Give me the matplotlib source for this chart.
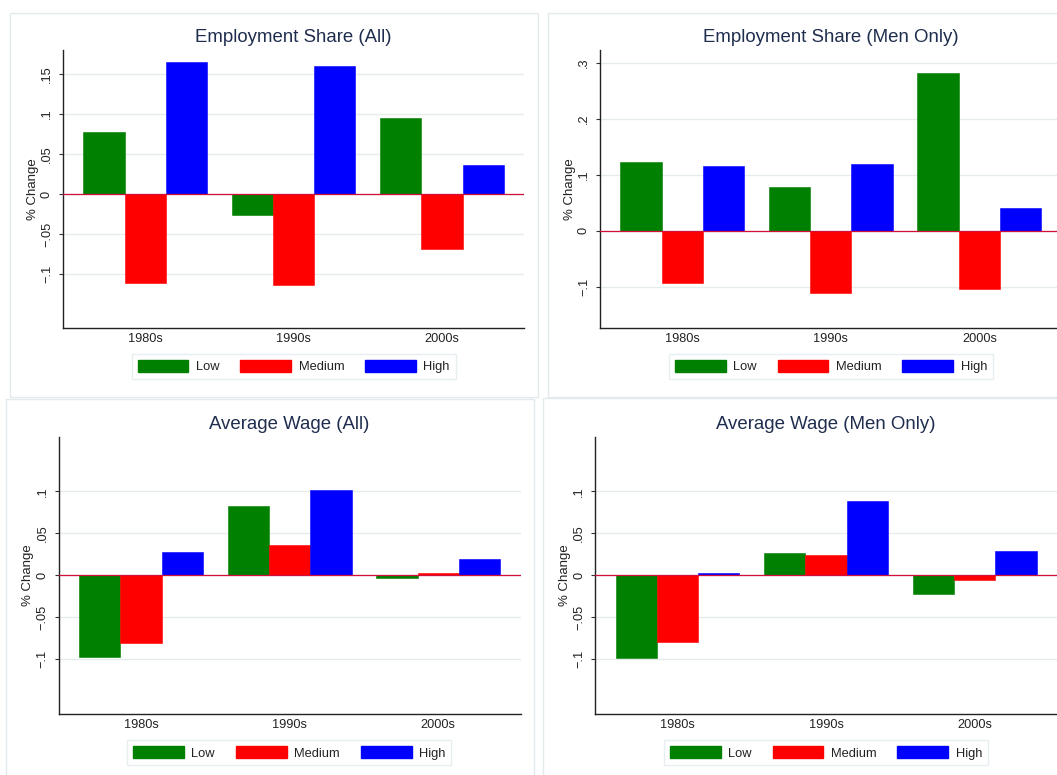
import matplotlib
matplotlib.use("Agg")
import matplotlib.pyplot as plt
from matplotlib.patches import Patch, Rectangle
from matplotlib.transforms import ScaledTranslation
import numpy as np

plt.rcParams['font.family'] = ['Liberation Sans', 'DejaVu Sans']

# ---- data -------------------------------------------------------------
decades = ["1980s", "1990s", "2000s"]
skill_groups = ["Low", "Medium", "High"]
skill_colors = ["#008000", "#ff0000", "#0000ff"]

emp_all_low = [0.0775, -0.026, 0.095]
emp_all_med = [-0.1105, -0.113, -0.069]
emp_all_high = [0.1645, 0.160, 0.036]

emp_men_low = [0.1227, 0.078, 0.2816]
emp_men_med = [-0.0934, -0.111, -0.105]
emp_men_high = [0.1155, 0.119, 0.0405]

wage_all_low = [-0.0969, 0.0825, -0.003]
wage_all_med = [-0.0802, 0.036, 0.003]
wage_all_high = [0.0274, 0.102, 0.0198]

wage_men_low = [-0.098, 0.0265, -0.022]
wage_men_med = [-0.080, 0.024, -0.006]
wage_men_high = [0.0024, 0.089, 0.029]

titles = ["Employment Share (All)", "Employment Share (Men Only)",
          "Average Wage (All)", "Average Wage (Men Only)"]
ytick_sets = [
    [-0.1, -0.05, 0, 0.05, 0.1, 0.15],
    [-0.1, 0, 0.1, 0.2, 0.3],
    [-0.1, -0.05, 0, 0.05, 0.1],
    [-0.1, -0.05, 0, 0.05, 0.1],
]
ytick_labels = [
    ["\u2212.1", "\u2212.05", "0", ".05", ".1", ".15"],
    ["\u2212.1", "0", ".1", ".2", ".3"],
    ["\u2212.1", "\u2212.05", "0", ".05", ".1"],
    ["\u2212.1", "\u2212.05", "0", ".05", ".1"],
]
ylims = [(-0.167, 0.180), (-0.174, 0.323), (-0.1655, 0.165), (-0.1655, 0.165)]
series = [
    (emp_all_low, emp_all_med, emp_all_high),
    (emp_men_low, emp_men_med, emp_men_high),
    (wage_all_low, wage_all_med, wage_all_high),
    (wage_men_low, wage_men_med, wage_men_high),
]

# ---- layout (pixel boxes: left, top, right, bottom) --------------------
W, H = 1057, 775
axes_boxes = [
    (62.7, 50, 524.4, 328),
    (599.6, 50, 1061.9, 328),
    (58.5, 436.7, 520.7, 714.3),
    (594.9, 436.7, 1057.2, 714.3),
]
frame_boxes = [
    (10, 13, 538.3, 396.7),
    (547.7, 13, 1065, 397),
    (6.3, 399.3, 534.3, 790),
    (543.3, 398, 1065, 790),
]
legend_centers = [(293.7, 366.5), (831, 366.5), (289.3, 752.9), (826, 752.9)]

TITLE_COLOR = "#1f2d4f"
GRID_COLOR = "#e6eced"
FRAME_COLOR = "#e2eaec"
ZERO_COLOR = "#d0103a"

fig = plt.figure(figsize=(W / 100, H / 100), dpi=100)
fig.patch.set_facecolor("white")

# panel frames
for (l, t, r, b) in frame_boxes:
    fig.add_artist(Rectangle((l / W, 1 - b / H), (r - l) / W, (b - t) / H,
                             transform=fig.transFigure, fill=False,
                             edgecolor=FRAME_COLOR, linewidth=1.0))

x = np.arange(len(decades))
bar_w = 0.2778

for i in range(4):
    l, t, r, b = axes_boxes[i]
    ax = fig.add_axes([l / W, 1 - b / H, (r - l) / W, (b - t) / H])
    ax.set_facecolor("white")

    for k, vals in enumerate(series[i]):
        ax.bar(x + (k - 1) * bar_w, vals, width=bar_w,
               color=skill_colors[k], edgecolor=skill_colors[k],
               linewidth=0.4, zorder=3)

    ax.set_xlim(-0.5556, 2.5556)
    ax.set_ylim(*ylims[i])
    ax.set_xticks(x)
    ax.set_xticklabels(decades, fontsize=9.2, color="#222222")
    ax.set_yticks(ytick_sets[i])
    ax.set_yticklabels(ytick_labels[i], fontsize=9.2, color="#222222",
                       rotation=90, va="center")
    ax.tick_params(axis="x", length=0, pad=3.5)
    ax.tick_params(axis="y", length=3, width=0.8, pad=4, color="#333333")

    for yv in ytick_sets[i]:
        ax.axhline(yv, color=GRID_COLOR, linewidth=1.0, zorder=1)
    ax.axhline(0, color=ZERO_COLOR, linewidth=0.9, zorder=4)

    for side in ("top", "right"):
        ax.spines[side].set_visible(False)
    for side in ("left", "bottom"):
        ax.spines[side].set_color("#222222")
        ax.spines[side].set_linewidth(1.0)

    ax.annotate(titles[i], xy=(0.5, 1), xycoords="axes fraction",
                xytext=(0, 12 * 0.72), textcoords="offset points",
                ha="center", va="center", fontsize=13.4, color=TITLE_COLOR)

    ax.text(0, 0.5, "% Change",
            transform=ax.transAxes + ScaledTranslation(-30 / 100, 0, fig.dpi_scale_trans),
            rotation=90, ha="center", va="center", fontsize=9.5, color="#222222")

    handles = [Patch(facecolor=c, edgecolor=c) for c in skill_colors]
    cx, cy = legend_centers[i]
    leg = fig.legend(handles, skill_groups, loc="center",
                     bbox_to_anchor=(cx / W, 1 - cy / H), ncol=3,
                     frameon=True, fancybox=False, fontsize=9.3,
                     handlelength=3.93, handleheight=1.08,
                     handletextpad=0.57, columnspacing=1.63,
                     borderpad=0.45, borderaxespad=0)
    leg.get_frame().set_edgecolor(FRAME_COLOR)
    leg.get_frame().set_linewidth(1.0)
    for txt in leg.get_texts():
        txt.set_color("#222222")

fig.savefig("out.png", dpi=100, facecolor="white")
